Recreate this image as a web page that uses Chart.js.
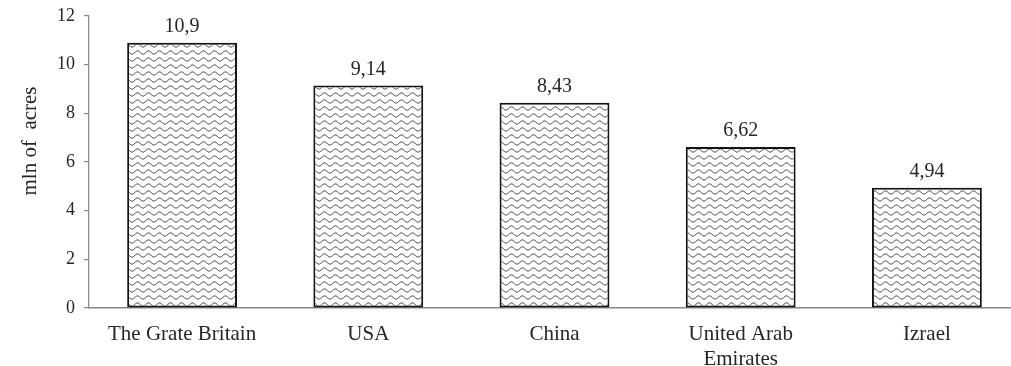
<!DOCTYPE html>
<html>
<head>
<meta charset="utf-8">
<title>Area, mln of acres</title>
<script src="https://cdn.jsdelivr.net/npm/chart.js@4/dist/chart.umd.min.js"></script>
<style>
  html, body { margin: 0; padding: 0; background: #ffffff; overflow: hidden; }
  #wrap { position: relative; width: 1020px; height: 366px; }
</style>
</head>
<body>
<div id="wrap"><canvas id="chart"></canvas></div>
<script>
// Countries and their values (mln of acres)
const categories = ['The Grate Britain', 'USA', 'China', ['United Arab', 'Emirates'], 'Izrael'];
const values = [10.9, 9.14, 8.43, 6.62, 4.94];
const yTicks = [0, 2, 4, 6, 8, 10, 12];
const yTitle = 'mln of  acres';

const SERIF = '"Liberation Serif", "Times New Roman", serif';
const TEXT = '#262626';
const AXIS = '#878787';

// Wavy hatch used to fill the bars
function wavePattern() {
  const c = document.createElement('canvas');
  c.width = 11; c.height = 7;
  const g = c.getContext('2d');
  g.fillStyle = '#ffffff';
  g.fillRect(0, 0, c.width, c.height);
  g.strokeStyle = '#3a3a3a';
  g.lineWidth = 1;
  g.beginPath();
  for (let x = 0; x <= c.width; x += 0.5) {
    const y = 3.5 + 1.6 * Math.cos((2 * Math.PI * x) / c.width);
    if (x === 0) g.moveTo(x, y); else g.lineTo(x, y);
  }
  g.stroke();
  return g.createPattern(c, 'repeat');
}

// Value labels above each bar, written with a decimal comma
const valueLabels = {
  id: 'valueLabels',
  afterDatasetsDraw(chart) {
    const ctx = chart.ctx;
    const meta = chart.getDatasetMeta(0);
    ctx.save();
    ctx.font = '20px ' + SERIF;
    ctx.fillStyle = TEXT;
    ctx.textAlign = 'center';
    ctx.textBaseline = 'alphabetic';
    meta.data.forEach((bar, i) => {
      const txt = String(values[i]).replace('.', ',');
      ctx.fillText(txt, bar.x, bar.y - 11);
    });
    ctx.restore();
  }
};

// Rotated y-axis title
const axisTitle = {
  id: 'axisTitle',
  afterDraw(chart) {
    const ctx = chart.ctx;
    ctx.save();
    ctx.font = '21px ' + SERIF;
    ctx.fillStyle = TEXT;
    ctx.textAlign = 'center';
    ctx.textBaseline = 'middle';
    ctx.translate(30, 141);
    ctx.rotate(-Math.PI / 2);
    ctx.fillText(yTitle, 0, 0);
    ctx.restore();
  }
};

new Chart(document.getElementById('chart'), {
  type: 'bar',
  data: {
    labels: categories,
    datasets: [{
      data: values,
      backgroundColor: wavePattern(),
      borderColor: '#141414',
      borderWidth: 2,
      borderSkipped: false,
      categoryPercentage: 1,
      barPercentage: 0.59
    }]
  },
  options: {
    responsive: true,
    maintainAspectRatio: false,
    animation: false,
    layout: { padding: { top: 16, right: 0, bottom: 0, left: 0 } },
    plugins: {
      legend: { display: false },
      tooltip: { enabled: false }
    },
    scales: {
      x: {
        grid: { display: false },
        border: { display: true, color: AXIS, width: 1.5 },
        ticks: {
          color: TEXT,
          font: { family: SERIF, size: 21, lineHeight: 1.2 },
          padding: 6,
          maxRotation: 0,
          autoSkip: false
        },
        afterFit(scale) { scale.height = 58; }
      },
      y: {
        min: 0,
        max: 12,
        afterBuildTicks(scale) { scale.ticks = yTicks.map(v => ({ value: v })); },
        grid: { drawOnChartArea: false, drawTicks: true, tickLength: 5, color: AXIS, lineWidth: 1.2 },
        border: { display: true, color: AXIS, width: 1.2 },
        ticks: {
          color: TEXT,
          font: { family: SERIF, size: 18 },
          padding: 9
        },
        afterFit(scale) {
          scale.width = 89;
          scale.paddingTop = 0;
          scale.paddingBottom = 0;
        }
      }
    }
  },
  plugins: [valueLabels, axisTitle]
});
</script>
</body>
</html>
